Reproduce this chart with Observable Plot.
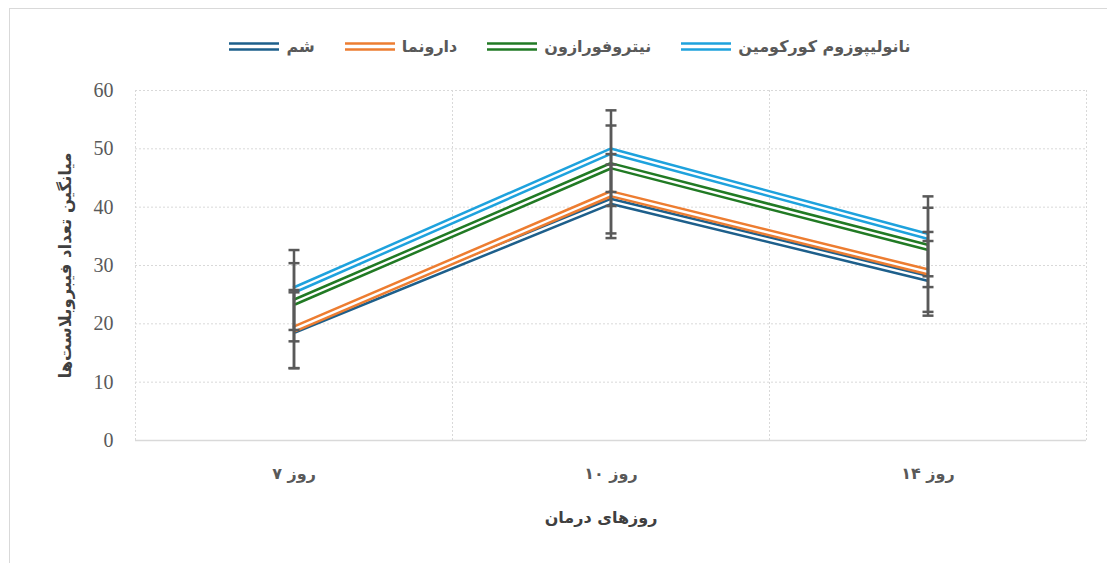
<!DOCTYPE html>
<html>
<head>
<meta charset="utf-8">
<script src="https://cdn.jsdelivr.net/npm/d3@7"></script>
<script src="https://cdn.jsdelivr.net/npm/@observablehq/plot@0.6"></script>
<style>
  html, body { margin: 0; padding: 0; background: #fff; }
  #wrap { position: relative; width: 1107px; height: 563px; overflow: hidden; }
  #border { position: absolute; left: 9px; top: 8px; width: 1200px; height: 700px; border-top: 1.5px solid #d9d9d9; border-left: 1.5px solid #d9d9d9; }
  #legend { position: relative; height: 70px; display: flex; justify-content: center; align-items: flex-start; padding-top: 37px; box-sizing: border-box; gap: 30px; padding-left: 33px; }
  .item { display: flex; flex-direction: row; align-items: center; gap: 7px; font-family: "DejaVu Sans", sans-serif; font-weight: bold; font-size: 16px; color: #595959; direction: rtl; }
  .item svg { display: block; }
  #chart { position: relative; }
</style>
</head>
<body>
<div id="wrap">
  <div id="border"></div>
  <div id="legend"></div>
  <div id="chart"></div>
</div>
<script>
// ---- data ----
const days = ["روز ۷", "روز ۱۰", "روز ۱۴"];
const seriesNames = ["شم", "دارونما", "نیتروفورازون", "نانولیپوزوم کورکومین"];
const seriesColors = ["#1d5f8b", "#ed7d31", "#217a24", "#1ea2dd"];
const shamMean = [18.9, 41.0, 27.8];
const placeboMean = [19.1, 42.3, 28.9];
const nitroMean = [23.7, 47.1, 33.1];
const nanoMean = [25.8, 49.6, 35.0];
const shamSd = [6.5, 6.3, 6.4];
const placeboSd = [6.7, 6.8, 6.85];
const nitroSd = [6.7, 6.9, 6.8];
const nanoSd = [6.85, 7.0, 6.85];
const yTicks = [0, 10, 20, 30, 40, 50, 60];
const yTitle = "میانگین تعداد فیبروبلاست‌ها";
const xTitle = "روزهای درمان";

const means = [shamMean, placeboMean, nitroMean, nanoMean];
const sds = [shamSd, placeboSd, nitroSd, nanoSd];

const rows = [];
seriesNames.forEach((s, si) => {
  days.forEach((d, di) => {
    rows.push({series: s, si, di, day: d, mean: means[si][di], lo: means[si][di] - sds[si][di], hi: means[si][di] + sds[si][di]});
  });
});

// ---- legend ----
const legend = document.getElementById("legend");
seriesNames.forEach((s, i) => {
  const item = document.createElement("div");
  item.className = "item";
  item.innerHTML = `<span>${s}</span><svg width="50" height="10"><line x1="0" x2="50" y1="1.5" y2="1.5" stroke="${seriesColors[i]}" stroke-width="2.4"/><line x1="0" x2="50" y1="7.5" y2="7.5" stroke="${seriesColors[i]}" stroke-width="2.4"/></svg>`;
  legend.appendChild(item);
});

// ---- chart ----
const capSymbol = {
  draw(context, size) {
    const r = Math.sqrt(size / Math.PI);
    context.moveTo(-r, 0);
    context.lineTo(r, 0);
  }
};
const boundaries = d3.range(0, days.length + 1).map(i => i - 0.5);
const grid = "#d9d9d9";
const persianFont = "DejaVu Sans, sans-serif";

const marks = [
  Plot.ruleY(yTicks.filter(t => t > 0), {y: d => d, stroke: grid, strokeWidth: 1, strokeDasharray: "2,2"}),
  Plot.ruleX(boundaries, {x: d => d, stroke: grid, strokeWidth: 1, strokeDasharray: "2,2"}),
  Plot.ruleY([0], {stroke: grid, strokeWidth: 1.5}),
  Plot.axisY({ticks: yTicks, tickSize: 0, tickPadding: 22, label: null, fontSize: 20, fontFamily: "Liberation Serif, serif", fill: "#595959"}),
  Plot.axisX({ticks: d3.range(days.length), tickFormat: i => days[i], tickSize: 0, tickPadding: 27, label: null, fontSize: 16, fontWeight: "bold", fontFamily: persianFont, fill: "#595959"}),
  Plot.text([yTitle], {frameAnchor: "left", textAnchor: "middle", rotate: -90, dx: -70, fontSize: 16.5, fontWeight: "bold", fontFamily: persianFont, fill: "#404040"}),
  Plot.text([xTitle], {frameAnchor: "bottom", textAnchor: "middle", dx: -10, dy: 82, fontSize: 16, fontWeight: "bold", fontFamily: persianFont, fill: "#404040"})
];

seriesNames.forEach((s, si) => {
  const d = rows.filter(r => r.si === si);
  marks.push(Plot.line(d, {x: "di", y: "mean", stroke: seriesColors[si], strokeWidth: 7.4, strokeLinejoin: "miter", strokeLinecap: "butt"}));
  marks.push(Plot.line(d, {x: "di", y: "mean", stroke: "#ffffff", strokeWidth: 2.4, strokeLinejoin: "miter", strokeLinecap: "butt"}));
});

marks.push(Plot.ruleX(rows, {x: "di", y1: "lo", y2: "hi", stroke: "#595959", strokeWidth: 2.5}));
marks.push(Plot.dot(rows, {x: "di", y: "hi", symbol: capSymbol, r: 5.5, stroke: "#595959", strokeWidth: 2.5}));
marks.push(Plot.dot(rows, {x: "di", y: "lo", symbol: capSymbol, r: 5.5, stroke: "#595959", strokeWidth: 2.5}));

const chart = Plot.plot({
  width: 1107,
  height: 493,
  marginTop: 20,
  marginBottom: 123,
  marginLeft: 135,
  marginRight: 21,
  x: {type: "linear", domain: [-0.5, days.length - 0.5]},
  y: {domain: [0, 60]},
  style: {background: "transparent", overflow: "visible"},
  marks
});
document.getElementById("chart").appendChild(chart);
</script>
</body>
</html>
